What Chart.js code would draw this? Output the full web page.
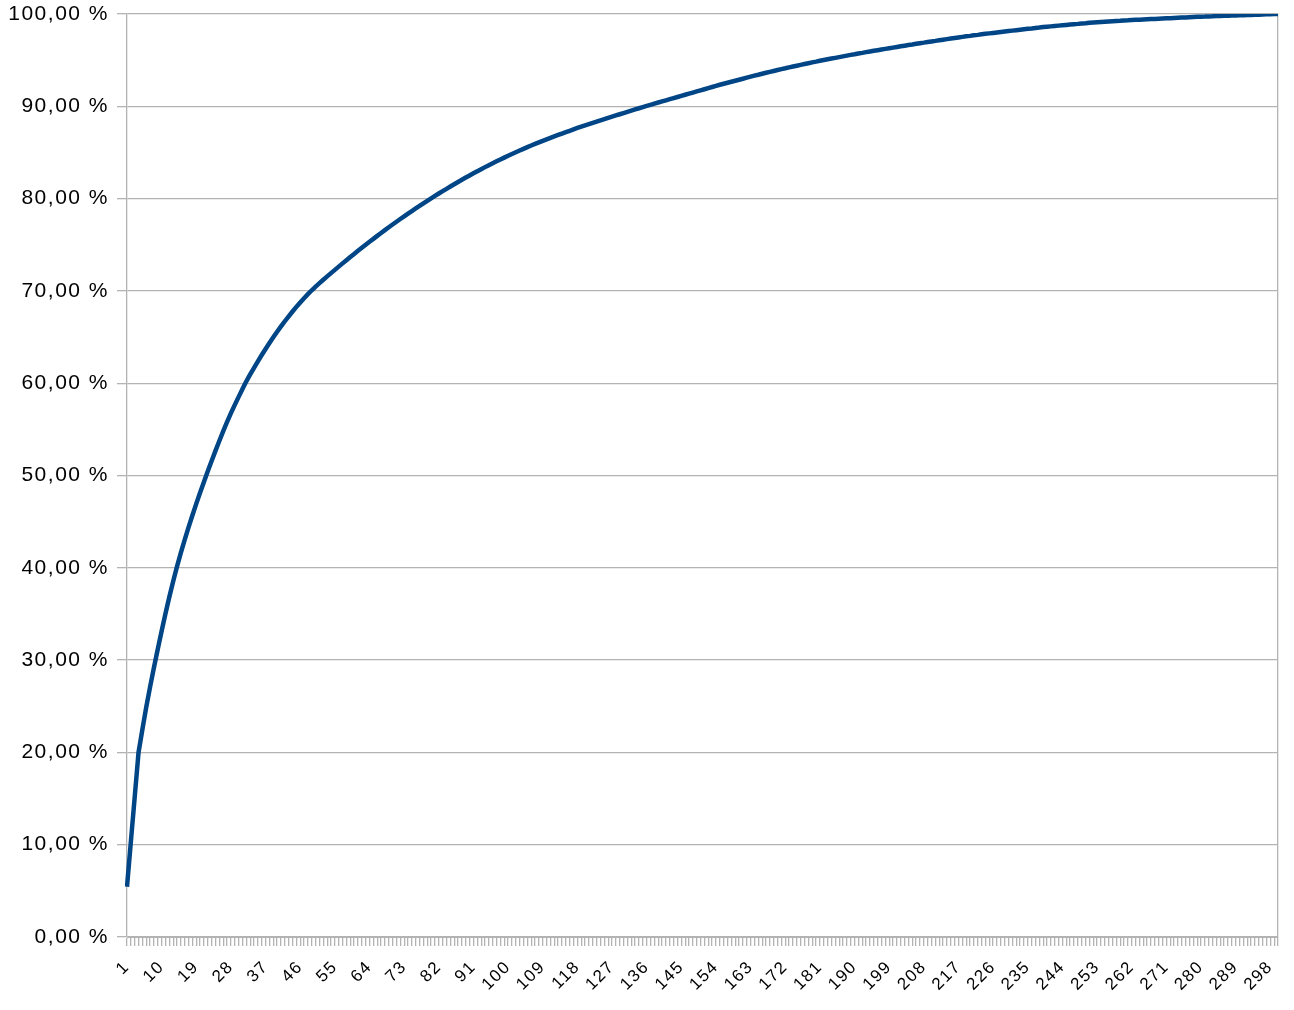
<!DOCTYPE html>
<html>
<head>
<meta charset="utf-8">
<script src="https://cdn.jsdelivr.net/npm/chart.js@4/dist/chart.umd.min.js"></script>
<style>
  html, body { margin: 0; padding: 0; background: #fff; }
  #wrap { width: 1294px; height: 1010px; }
</style>
</head>
<body>
<div id="wrap"><canvas id="grafica"></canvas></div>
<script>
// categorias 1..300
const categorias = Array.from({length: 300}, (_, i) => String(i + 1));

// etiquetas visibles del eje x
const etiquetasX = ['1','10','19','28','37','46','55','64','73','82','91','100','109','118','127','136',
  '145','154','163','172','181','190','199','208','217','226','235','244','253','262','271','280','289','298'];

// porcentaje acumulado
const acumulado = [
  5.45, 10.30, 15.15, 20.00, 22.50, 24.90, 27.10, 29.20, 31.20, 33.15,
  35.05, 36.85, 38.55, 40.15, 41.65, 43.05, 44.40, 45.70, 46.95, 48.15,
  49.33, 50.48, 51.60, 52.70, 53.77, 54.80, 55.80, 56.75, 57.65, 58.52,
  59.37, 60.20, 60.95, 61.67, 62.37, 63.05, 63.71, 64.35, 64.97, 65.57,
  66.15, 66.71, 67.25, 67.77, 68.27, 68.75, 69.21, 69.65, 70.07, 70.47,
  70.84, 71.21, 71.57, 71.93, 72.28, 72.63, 72.98, 73.33, 73.67, 74.01,
  74.34, 74.67, 75.00, 75.32, 75.64, 75.96, 76.27, 76.58, 76.89, 77.19,
  77.49, 77.79, 78.08, 78.37, 78.65, 78.93, 79.21, 79.49, 79.76, 80.03,
  80.29, 80.55, 80.81, 81.06, 81.31, 81.56, 81.80, 82.04, 82.28, 82.51,
  82.74, 82.97, 83.19, 83.41, 83.62, 83.83, 84.04, 84.24, 84.44, 84.64,
  84.83, 85.02, 85.21, 85.39, 85.57, 85.75, 85.92, 86.09, 86.26, 86.42,
  86.58, 86.74, 86.90, 87.05, 87.20, 87.35, 87.50, 87.65, 87.79, 87.93,
  88.07, 88.21, 88.35, 88.48, 88.62, 88.75, 88.88, 89.01, 89.14, 89.27,
  89.40, 89.53, 89.66, 89.79, 89.92, 90.04, 90.16, 90.29, 90.41, 90.53,
  90.65, 90.77, 90.89, 91.01, 91.13, 91.25, 91.37, 91.49, 91.61, 91.73,
  91.85, 91.97, 92.09, 92.21, 92.33, 92.44, 92.55, 92.66, 92.77, 92.88,
  92.99, 93.10, 93.21, 93.32, 93.42, 93.53, 93.63, 93.73, 93.83, 93.93,
  94.03, 94.12, 94.22, 94.31, 94.40, 94.49, 94.58, 94.67, 94.76, 94.84,
  94.93, 95.01, 95.09, 95.17, 95.25, 95.33, 95.41, 95.49, 95.57, 95.64,
  95.72, 95.79, 95.87, 95.94, 96.01, 96.08, 96.15, 96.22, 96.29, 96.36,
  96.43, 96.50, 96.57, 96.64, 96.70, 96.77, 96.84, 96.90, 96.97, 97.03,
  97.09, 97.16, 97.22, 97.28, 97.34, 97.40, 97.46, 97.52, 97.58, 97.63,
  97.69, 97.74, 97.80, 97.85, 97.90, 97.95, 98.00, 98.05, 98.10, 98.15,
  98.20, 98.25, 98.30, 98.35, 98.40, 98.44, 98.49, 98.53, 98.58, 98.62,
  98.66, 98.70, 98.74, 98.78, 98.82, 98.86, 98.90, 98.93, 98.97, 99.00,
  99.04, 99.07, 99.10, 99.13, 99.16, 99.19, 99.22, 99.25, 99.27, 99.30,
  99.32, 99.35, 99.37, 99.39, 99.41, 99.43, 99.45, 99.47, 99.49, 99.51,
  99.53, 99.55, 99.57, 99.59, 99.61, 99.63, 99.65, 99.67, 99.69, 99.71,
  99.72, 99.74, 99.75, 99.77, 99.78, 99.80, 99.81, 99.83, 99.84, 99.86,
  99.87, 99.89, 99.90, 99.92, 99.93, 99.95, 99.96, 99.98, 99.99, 100.00
];

const gris = '#b3b3b3';

// el texto de LibreOffice sale algo espaciado
const espaciado = {
  id: 'espaciado',
  beforeUpdate(chart) { chart.ctx.letterSpacing = '1.5px'; },
  beforeDraw(chart) { chart.ctx.letterSpacing = '1.5px'; }
};

// el area del grafico queda fija: sin relleno extra de las escalas
function sinRelleno(scale) {
  scale.paddingTop = 0;
  scale.paddingBottom = 0;
  scale.paddingLeft = 0;
  scale.paddingRight = 0;
}

const ctx = document.getElementById('grafica').getContext('2d');
new Chart(ctx, {
  type: 'line',
  data: {
    labels: categorias,
    datasets: [{
      data: acumulado,
      borderColor: '#004586',
      borderWidth: 4.5,
      pointRadius: 0,
      tension: 0,
      fill: false
    }]
  },
  options: {
    responsive: true,
    maintainAspectRatio: false,
    animation: false,
    layout: { padding: { top: 14, right: 16, left: 0, bottom: 0 } },
    plugins: { legend: { display: false }, tooltip: { enabled: false } },
    scales: {
      x: {
        offset: false,
        grid: { display: true, drawOnChartArea: false, drawTicks: true, tickLength: 9, color: gris, lineWidth: 1.3 },
        border: { color: gris },
        ticks: {
          autoSkip: false,
          minRotation: 45,
          maxRotation: 45,
          padding: 11,
          color: '#000',
          font: { family: 'Liberation Sans', size: 17 },
          callback: function(v, i) {
            const l = categorias[i];
            return etiquetasX.includes(l) ? l : '';
          }
        },
        afterFit(scale) { scale.height = 73; sinRelleno(scale); }
      },
      y: {
        min: 0,
        max: 100,
        grid: { color: gris, tickLength: 10, lineWidth: 1.3 },
        border: { color: gris, width: 1.3 },
        ticks: {
          stepSize: 10,
          padding: 8,
          color: '#000',
          font: { family: 'Liberation Sans', size: 21 },
          callback: v => v.toFixed(2).replace('.', ',') + ' %'
        },
        afterFit(scale) { scale.width = 127; sinRelleno(scale); }
      },
      y2: {
        position: 'right',
        min: 0,
        max: 100,
        grid: { display: false },
        border: { color: gris, width: 1.3 },
        ticks: { display: false },
        afterFit(scale) { scale.width = 0; sinRelleno(scale); }
      }
    }
  },
  plugins: [espaciado]
});
</script>
</body>
</html>
